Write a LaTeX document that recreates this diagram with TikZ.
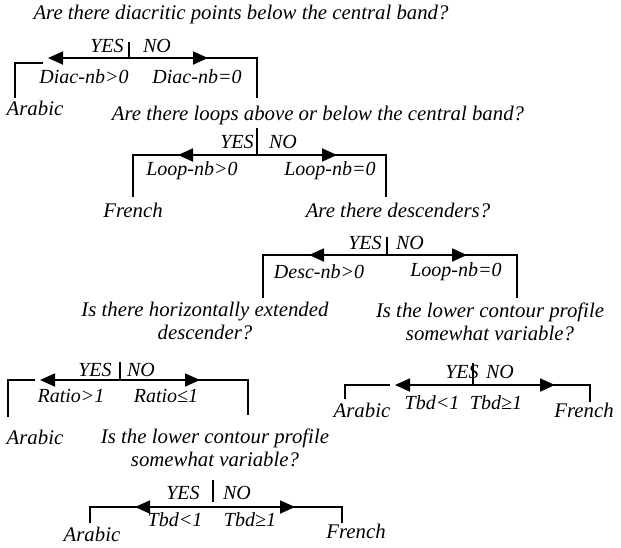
\documentclass[tikz,border=0pt]{standalone}
\usepackage{fontspec}
\setmainfont{Liberation Serif}
\usetikzlibrary{arrows.meta}
\tikzset{
  txt/.style={font=\fontsize{20.8}{23}\selectfont\itshape, inner sep=0pt, align=center},
  lbl/.style={font=\fontsize{20}{22}\selectfont\itshape, inner sep=0pt},
  br/.style={line width=1.8pt},
  arr/.style={line width=1.8pt, -{Triangle[length=15pt,width=13pt]}},
}
\begin{document}
\begin{tikzpicture}[x=1pt,y=-1pt]
\useasboundingbox (0,0) rectangle (621,547);
% ---------- structure 1
\node[txt] (q1) at (241,14) {Are there diacritic points below the central band?};
\coordinate (d1t) at (129,42); \coordinate (c1) at (129,58);
\coordinate (l1a) at (43,63); \coordinate (l1b) at (15,63); \coordinate (l1c) at (15,98);
\coordinate (lt1) at (48,58); \coordinate (rt1) at (208,58);
\coordinate (r1a) at (257,58); \coordinate (r1b) at (257,98);
\draw[br] (d1t) -- (c1);
\draw[br] (l1a) -- (l1b) -- (l1c);
\draw[br] (c1) -- (r1a) -- (r1b);
\draw[arr] (c1) -- (lt1);
\draw[arr] (c1) -- (rt1);
\node[lbl] (y1) at (107,46) {YES};
\node[lbl] (n1) at (157,46) {NO};
\node[lbl] (a1) at (84,77) {Diac-nb>0};
\node[lbl] (b1) at (197,77) {Diac-nb=0};
\node[txt] (ar1) at (35,108) {Arabic};
% ---------- structure 2
\node[txt] (q2) at (318,115) {Are there loops above or below the central band?};
\coordinate (d2t) at (257,128); \coordinate (c2) at (257,155);
\coordinate (l2a) at (133,155); \coordinate (l2b) at (133,197);
\coordinate (r2a) at (386,155); \coordinate (r2b) at (386,197);
\coordinate (lt2) at (178,155); \coordinate (rt2) at (337,155);
\draw[br] (d2t) -- (c2);
\draw[br] (l2b) -- (l2a) -- (r2a) -- (r2b);
\draw[arr] (c2) -- (lt2);
\draw[arr] (c2) -- (rt2);
\node[lbl] (y2) at (237,142) {YES};
\node[lbl] (n2) at (283,142) {NO};
\node[lbl] (a2) at (192,171) {Loop-nb>0};
\node[lbl] (b2) at (330,171) {Loop-nb=0};
\node[txt] (fr2) at (133,210) {French};
\node[txt] (q3) at (398,210) {Are there descenders?};
% ---------- structure 3
\coordinate (d3t) at (387,237); \coordinate (c3) at (387,255);
\coordinate (l3a) at (263,255); \coordinate (l3b) at (263,298);
\coordinate (r3a) at (517,255); \coordinate (r3b) at (517,298);
\coordinate (lt3) at (309,255); \coordinate (rt3) at (467,255);
\draw[br] (d3t) -- (c3);
\draw[br] (l3b) -- (l3a) -- (r3a) -- (r3b);
\draw[arr] (c3) -- (lt3);
\draw[arr] (c3) -- (rt3);
\node[lbl] (y3) at (365,243) {YES};
\node[lbl] (n3) at (410,243) {NO};
\node[lbl] (a3) at (319,272) {Desc-nb>0};
\node[lbl] (b3) at (456,272) {Loop-nb=0};
\node[txt] (q4) at (205,321) {Is there horizontally extended\\descender?};
\node[txt] (q5) at (490,322) {Is the lower contour profile\\somewhat variable?};
% ---------- structure 4
\coordinate (d4t) at (120,362); \coordinate (c4) at (120,380);
\coordinate (l4a) at (35,380); \coordinate (l4b) at (8,380); \coordinate (l4c) at (8,417);
\coordinate (lt4) at (40,380); \coordinate (rt4) at (200,380);
\coordinate (r4a) at (248,380); \coordinate (r4b) at (248,415);
\draw[br] (d4t) -- (c4);
\draw[br] (l4a) -- (l4b) -- (l4c);
\draw[br] (c4) -- (r4a) -- (r4b);
\draw[arr] (c4) -- (lt4);
\draw[arr] (c4) -- (rt4);
\node[lbl] (y4) at (95,370) {YES};
\node[lbl] (n4) at (141,370) {NO};
\node[lbl] (a4) at (71,396) {Ratio>1};
\node[lbl] (b4) at (166,396) {Ratio≤1};
\node[txt] (ar4) at (35,437) {Arabic};
\node[txt] (q6) at (215,448) {Is the lower contour profile\\somewhat variable?};
% ---------- structure 5
\coordinate (d5t) at (473,363); \coordinate (c5) at (473,385);
\coordinate (l5a) at (390,385); \coordinate (l5b) at (345,385); \coordinate (l5c) at (345,399);
\coordinate (lt5) at (395,385); \coordinate (rt5) at (555,385);
\coordinate (r5a) at (590,385); \coordinate (r5b) at (590,402);
\draw[br] (d5t) -- (c5);
\draw[br] (l5a) -- (l5b) -- (l5c);
\draw[br] (c5) -- (r5a) -- (r5b);
\draw[arr] (c5) -- (lt5);
\draw[arr] (c5) -- (rt5);
\node[lbl] (y5) at (462,372) {YES};
\node[lbl] (n5) at (500,372) {NO};
\node[lbl] (a5) at (432,403) {Tbd<1};
\node[lbl] (b5) at (496,403) {Tbd≥1};
\node[txt] (ar5) at (362,410) {Arabic};
\node[txt] (fr5) at (584,410) {French};
% ---------- structure 6
\coordinate (d6t) at (213,480); \coordinate (c6) at (213,502);
\coordinate (c6b) at (213,507);
\coordinate (l6a) at (90,507); \coordinate (l6b) at (90,523);
\coordinate (r6a) at (342,507); \coordinate (r6b) at (342,523);
\coordinate (lt6) at (135,507); \coordinate (rt6) at (295,507);
\draw[br] (d6t) -- (c6);
\draw[br] (l6b) -- (l6a) -- (r6a) -- (r6b);
\draw[arr] (c6b) -- (lt6);
\draw[arr] (c6b) -- (rt6);
\node[lbl] (y6) at (183,493) {YES};
\node[lbl] (n6) at (237,493) {NO};
\node[lbl] (a6) at (175,520) {Tbd<1};
\node[lbl] (b6) at (250,520) {Tbd≥1};
\node[txt] (ar6) at (92,534) {Arabic};
\node[txt] (fr6) at (356,531) {French};
\end{tikzpicture}
\end{document}
